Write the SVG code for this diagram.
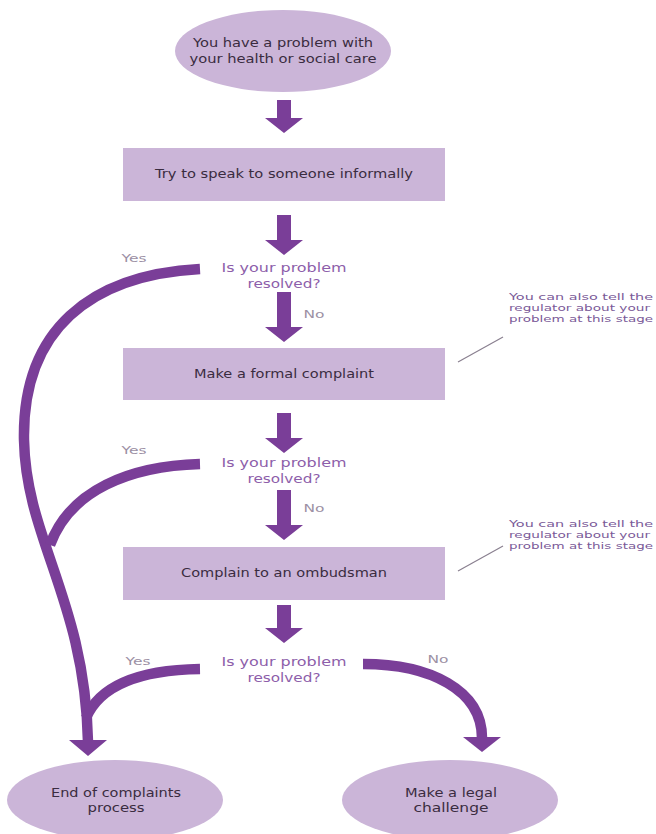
<svg xmlns="http://www.w3.org/2000/svg" width="656" height="834" viewBox="0 0 656 834">
<defs>
<style>
.node{fill:#cbb5d8}
.t{font-family:"DejaVu Sans",Verdana,sans-serif;font-size:12.5px;fill:#3a2c40;text-anchor:middle}
.q{font-family:"DejaVu Sans",Verdana,sans-serif;font-size:13px;fill:#8d5eaa;text-anchor:middle}
.lbl{font-family:"DejaVu Sans",Verdana,sans-serif;font-size:10.5px;fill:#9c90a4;text-anchor:middle}
.note{font-family:"DejaVu Sans",Verdana,sans-serif;font-size:9.5px;fill:#7a5a98}
.arr{fill:#7a3e98}
.cur{fill:none;stroke:#7a3e98;stroke-width:10.5}
.lead{stroke:#8a8090;stroke-width:1.2}
</style>
</defs>
<rect width="656" height="834" fill="#ffffff"/>

<g id="start">
<ellipse class="node" cx="283" cy="51" rx="108" ry="41"/>
<text class="t" x="283" y="47" textLength="180" lengthAdjust="spacingAndGlyphs">You have a problem with</text>
<text class="t" x="283" y="63" textLength="187" lengthAdjust="spacingAndGlyphs">your health or social care</text>
</g>

<g id="informal">
<rect class="node" x="123" y="148" width="322" height="53"/>
<text class="t" x="284" y="178" textLength="258" lengthAdjust="spacingAndGlyphs">Try to speak to someone informally</text>
</g>

<g id="q1">
<text class="q" x="284" y="272" textLength="125" lengthAdjust="spacingAndGlyphs">Is your problem</text>
<text class="q" x="284" y="288" textLength="73" lengthAdjust="spacingAndGlyphs">resolved?</text>
</g>

<g id="formal">
<rect class="node" x="123" y="348" width="322" height="52"/>
<text class="t" x="284" y="378" textLength="180" lengthAdjust="spacingAndGlyphs">Make a formal complaint</text>
</g>

<g id="note1">
<text class="note" x="509" y="300" textLength="144" lengthAdjust="spacingAndGlyphs">You can also tell the</text>
<text class="note" x="509" y="311" textLength="141" lengthAdjust="spacingAndGlyphs">regulator about your</text>
<text class="note" x="509" y="322" textLength="144" lengthAdjust="spacingAndGlyphs">problem at this stage</text>
</g>

<g id="q2">
<text class="q" x="284" y="467" textLength="125" lengthAdjust="spacingAndGlyphs">Is your problem</text>
<text class="q" x="284" y="483" textLength="73" lengthAdjust="spacingAndGlyphs">resolved?</text>
</g>

<g id="ombudsman">
<rect class="node" x="123" y="547" width="322" height="53"/>
<text class="t" x="284" y="577" textLength="206" lengthAdjust="spacingAndGlyphs">Complain to an ombudsman</text>
</g>

<g id="note2">
<text class="note" x="509" y="527" textLength="144" lengthAdjust="spacingAndGlyphs">You can also tell the</text>
<text class="note" x="509" y="538" textLength="141" lengthAdjust="spacingAndGlyphs">regulator about your</text>
<text class="note" x="509" y="549" textLength="144" lengthAdjust="spacingAndGlyphs">problem at this stage</text>
</g>

<g id="q3">
<text class="q" x="284" y="666" textLength="125" lengthAdjust="spacingAndGlyphs">Is your problem</text>
<text class="q" x="284" y="682" textLength="73" lengthAdjust="spacingAndGlyphs">resolved?</text>
</g>

<g id="end">
<ellipse class="node" cx="115" cy="800" rx="108" ry="40"/>
<text class="t" x="116" y="797" textLength="130" lengthAdjust="spacingAndGlyphs">End of complaints</text>
<text class="t" x="116" y="812" textLength="57" lengthAdjust="spacingAndGlyphs">process</text>
</g>

<g id="legal">
<ellipse class="node" cx="450" cy="800" rx="108" ry="40"/>
<text class="t" x="451" y="797" textLength="92" lengthAdjust="spacingAndGlyphs">Make a legal</text>
<text class="t" x="451" y="812" textLength="75" lengthAdjust="spacingAndGlyphs">challenge</text>
</g>

<g id="connectors">
<polygon class="arr" points="277,100 291,100 291,118 303,118 284,133 265,118 277,118"/>
<polygon class="arr" points="277,215 291,215 291,240 303,240 284,255 265,240 277,240"/>
<polygon class="arr" points="277,292 291,292 291,327 303,327 284,342 265,327 277,327"/>
<polygon class="arr" points="277,413 291,413 291,438 303,438 284,453 265,438 277,438"/>
<polygon class="arr" points="277,490 291,490 291,525 303,525 284,540 265,525 277,525"/>
<polygon class="arr" points="277,605 291,605 291,628 303,628 284,643 265,628 277,628"/>

<path class="cur" d="M200,269 C90,275 22,330 24,440 C26,540 85,600 88,742"/>
<path class="cur" d="M200,464 C130,466 70,490 50,545"/>
<path class="cur" d="M200,669 C140,670 100,685 86,718"/>
<polygon class="arr" points="69,740 107,740 88,756"/>
<path class="cur" d="M363,664 C430,664 482,690 482,738"/>
<polygon class="arr" points="463,737 501,737 482,752"/>

<line class="lead" x1="458" y1="362" x2="503" y2="337"/>
<line class="lead" x1="458" y1="571" x2="503" y2="546"/>

<text class="lbl" x="134" y="262" textLength="25" lengthAdjust="spacingAndGlyphs">Yes</text>
<text class="lbl" x="134" y="454" textLength="25" lengthAdjust="spacingAndGlyphs">Yes</text>
<text class="lbl" x="138" y="665" textLength="25" lengthAdjust="spacingAndGlyphs">Yes</text>
<text class="lbl" x="314" y="318" textLength="21" lengthAdjust="spacingAndGlyphs">No</text>
<text class="lbl" x="314" y="512" textLength="21" lengthAdjust="spacingAndGlyphs">No</text>
<text class="lbl" x="438" y="663" textLength="21" lengthAdjust="spacingAndGlyphs">No</text>
</g>
</svg>
